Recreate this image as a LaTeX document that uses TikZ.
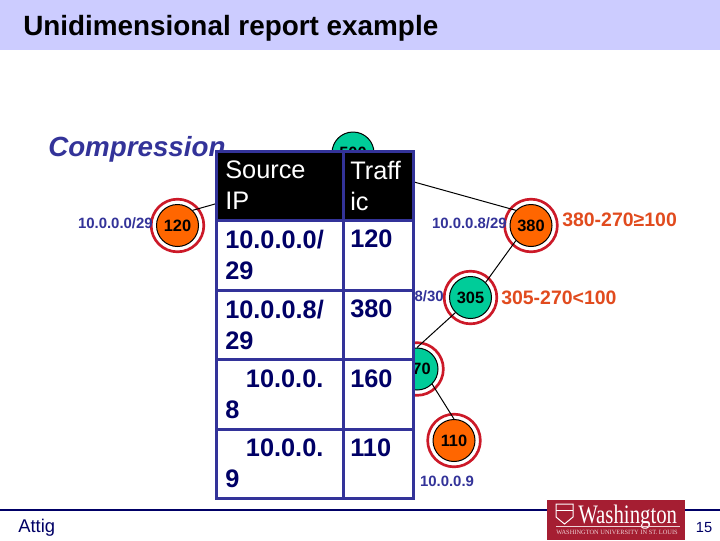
\documentclass[tikz,border=0pt]{standalone}
\usepackage{fontspec}
\setmainfont{Liberation Sans}
\newfontfamily\logofont{Liberation Serif}
\usepackage{graphicx}
\usepackage{tikz}
\usetikzlibrary{positioning}
\definecolor{bandblue}{RGB}{204,204,255}
\definecolor{tableblue}{RGB}{51,51,153}
\definecolor{cellnavy}{RGB}{0,0,102}
\definecolor{ringred}{RGB}{204,25,40}
\definecolor{leaforange}{RGB}{255,102,0}
\definecolor{innergreen}{RGB}{0,204,153}
\definecolor{notered}{RGB}{225,75,30}
\definecolor{logored}{RGB}{165,30,50}
\tikzset{
  treenode/.style={circle, draw=black, line width=0.75pt, minimum size=31.5pt, inner sep=0pt, font=\fontsize{12.3}{14}\selectfont\bfseries},
  leafnode/.style={treenode, fill=leaforange},
  innernode/.style={treenode, fill=innergreen},
  ringnode/.style={circle, draw=ringred, line width=2pt, minimum size=39.5pt, inner sep=0pt},
  iplabel/.style={text=tableblue, font=\fontsize{11.2}{13}\selectfont\bfseries, inner sep=0pt},
  notelabel/.style={text=notered, font=\fontsize{14.6}{16}\selectfont\bfseries, inner sep=0pt},
  treeedge/.style={black, line width=0.75pt},
  headcell/.style={text=white, font=\fontsize{19}{23.2}\selectfont, align=left, anchor=north west, inner sep=0pt},
  bodycell/.style={text=cellnavy, font=\fontsize{19}{23.2}\selectfont\bfseries, align=left, anchor=north west, inner sep=0pt},
  tablerule/.style={tableblue, line width=2.25pt}
}
\begin{document}
\begin{tikzpicture}[x=0.75pt, y=-0.75pt]
    \useasboundingbox (0,0) rectangle (720,540);
    \fill[bandblue] (0,0) rectangle (720,50);
    \node[anchor=base west, inner sep=0pt, font=\fontsize{20.9}{22}\selectfont\bfseries] (title) at (23,35) {Unidimensional report example};
    \node[anchor=base west, inner sep=0pt, text=tableblue, font=\fontsize{20.8}{22}\selectfont\bfseries\itshape] (compress) at (48,156) {Compression};

    % tree
    \node[innernode] (root) at (353,153) {500};
    \coordinate (rootjoin) at (353,165);
    \node[leafnode] (n120) at (177.5,225.5) {120};
    \node[leafnode] (n380) at (531,225.5) {380};
    \node[innernode] (n305) at (470.5,297.5) {305};
    \node[innernode] (n270) at (417,369) {270};
    \node[leafnode] (n110) at (454,440.5) {110};
    \node[ringnode] (r120) at (n120) {};
    \node[ringnode] (r380) at (n380) {};
    \node[ringnode] (r305) at (n305) {};
    \node[ringnode] (r270) at (n270) {};
    \node[ringnode] (r110) at (n110) {};

    % Connect the nodes
    \draw[treeedge] (rootjoin) -- (n120.north east);
    \draw[treeedge] (rootjoin) -- (n380.north west);
    \draw[treeedge] (n380.south west) -- (n305.north east);
    \draw[treeedge] (n305.south west) -- (n270.north);
    \draw[treeedge] (n270.south east) -- (n110.north);

    \node[iplabel, anchor=east] (p120) at (153,223) {10.0.0.0/29};
    \node[iplabel, anchor=east] (p380) at (507,223) {10.0.0.8/29};
    \node[iplabel, anchor=east] (p305) at (444,296) {10.0.0.8/30};
    \node[iplabel] (p110) at (447,481) {10.0.0.9};
    \node[notelabel, anchor=west] (d380) at (562,220) {380-270≥100};
    \node[notelabel, anchor=west] (d305) at (501,298) {305-270<100};

    % table
    \fill[white] (216,151) rectangle (413,498);
    \fill[black] (216,151) rectangle (413,220);
    \draw[tablerule] (216,151) rectangle (413,498);
    \draw[tablerule] (343,151) -- (343,498);
    \draw[tablerule] (216,220) -- (413,220);
    \draw[tablerule] (216,290) -- (413,290);
    \draw[tablerule] (216,359) -- (413,359);
    \draw[tablerule] (216,429) -- (413,429);
    \node[headcell] (hsrc) at (225,161) {Source\\IP};
    \node[headcell] (htraf) at (350,161) {Traff\\ic};
    \node[bodycell] (s1) at (225,230) {10.0.0.0/\\29};
    \node[bodycell] (t1) at (350,230) {120};
    \node[bodycell] (s2) at (225,300) {10.0.0.8/\\29};
    \node[bodycell] (t2) at (350,300) {380};
    \node[bodycell] (s3) at (225,370) {\hspace{15.5pt}10.0.0.\\8};
    \node[bodycell] (t3) at (350,370) {160};
    \node[bodycell] (s4) at (225,439) {\hspace{15.5pt}10.0.0.\\9};
    \node[bodycell] (t4) at (350,439) {110};

    % footer
    \draw[cellnavy, line width=1.5pt] (0,510) -- (720,510);
    \fill[logored] (547,500) rectangle (685,540);
    \node[anchor=base west, inner sep=0pt, font=\fontsize{13.8}{15}\selectfont, text=cellnavy] (author) at (18,532) {Attig};
    \node[anchor=base, inner sep=0pt, font=\fontsize{11}{13}\selectfont, text=cellnavy] (page) at (704,532) {15};
    \node[anchor=base west, inner sep=0pt, text=white, font=\logofont\fontsize{20}{22}\selectfont] (wash) at (578,523) {\scalebox{0.78}[1]{Washington}};
    \draw[white!80!logored, line width=0.75pt] (556,526) -- (680,526);
    \node[anchor=west, inner sep=0pt, text=white!80!logored, font=\logofont\fontsize{4.8}{6}\selectfont] (wustl) at (556,532) {WASHINGTON UNIVERSITY IN ST. LOUIS};
    \draw[white, line width=0.75pt] (556,504) -- (573,504) -- (573,517) -- (564.5,524) -- (556,517) -- cycle;
    \draw[white, line width=0.75pt] (556,510) -- (573,510);
\end{tikzpicture}
\end{document}
